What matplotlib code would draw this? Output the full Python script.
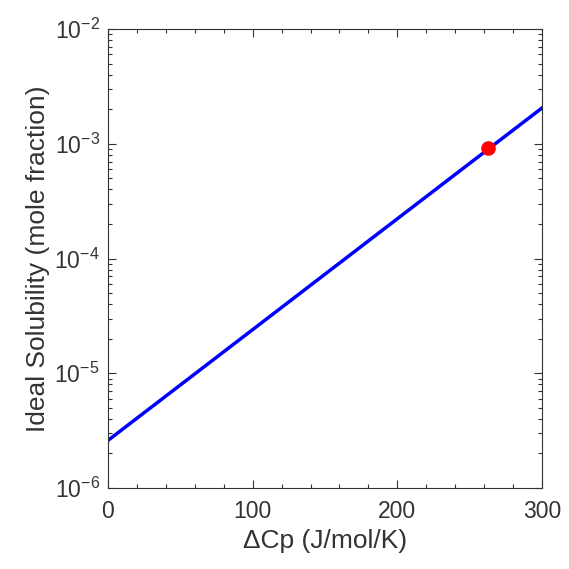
import matplotlib
matplotlib.use('Agg')
import matplotlib.pyplot as plt
from matplotlib.ticker import LogLocator, MultipleLocator, NullFormatter

plt.rcParams['font.family'] = ['Liberation Sans', 'DejaVu Sans']
plt.rcParams['mathtext.fontset'] = 'custom'
plt.rcParams['mathtext.rm'] = 'Liberation Sans'
plt.rcParams['mathtext.it'] = 'Liberation Sans:italic'
plt.rcParams['mathtext.bf'] = 'Liberation Sans:bold'

# values
dcp = [0, 100, 200, 300]
solubility = [2.6e-6, 2.4e-5, 2.22e-4, 2.05e-3]
point_x = [263]
point_y = [9.2e-4]

grey = '#333333'

fig = plt.figure(figsize=(5.69, 5.69), dpi=100)
ax = fig.add_axes([108 / 569, 1 - 488 / 569, (542 - 108) / 569, (488 - 29) / 569])

ax.semilogy(dcp, solubility, color='#0000ff', linewidth=2.5)
ax.plot(point_x, point_y, 'o', color='#ff0000', markersize=9.5)

ax.set_xlim(0, 300)
ax.set_ylim(1e-6, 1e-2)
ax.xaxis.set_major_locator(MultipleLocator(100))
ax.xaxis.set_minor_locator(MultipleLocator(20))
ax.yaxis.set_major_locator(LogLocator(base=10, numticks=10))
ax.yaxis.set_minor_locator(LogLocator(base=10, subs=range(2, 10), numticks=10))
ax.yaxis.set_minor_formatter(NullFormatter())

ax.tick_params(which='both', direction='in', top=True, right=True, colors=grey,
               labelsize=16.5, width=0.8)
ax.tick_params(which='major', length=6)
ax.tick_params(which='minor', length=3)
ax.tick_params(axis='x', pad=9)
ax.tick_params(axis='y', pad=6)
for s in ax.spines.values():
    s.set_color(grey)
    s.set_linewidth(0.8)

ax.set_xlabel('\u0394Cp (J/mol/K)', fontsize=19, color=grey, labelpad=4)
ax.set_ylabel('Ideal Solubility (mole fraction)', fontsize=19, color=grey, labelpad=3)

fig.savefig('out.png', dpi=100)
